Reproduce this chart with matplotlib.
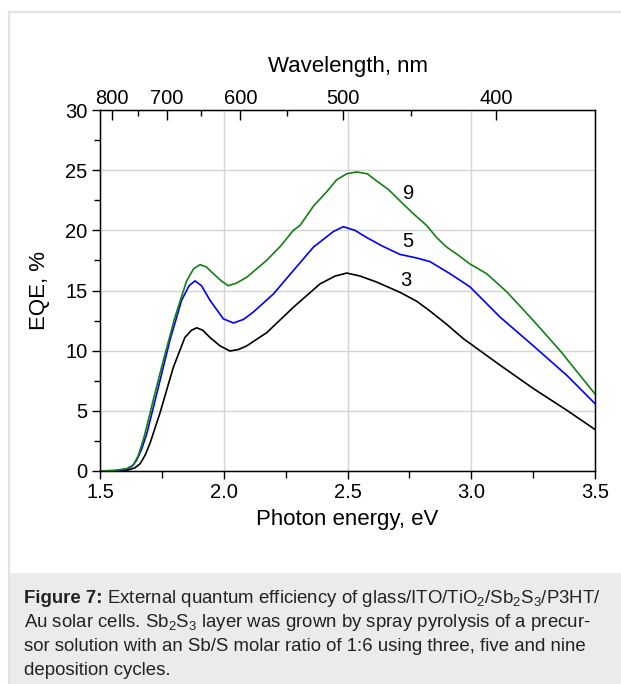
import numpy as np
import matplotlib
matplotlib.use("Agg")
import matplotlib.pyplot as plt
from matplotlib.patches import Rectangle
from matplotlib.lines import Line2D

plt.rcParams["font.family"] = "Liberation Sans"
plt.rcParams["mathtext.fontset"] = "custom"
plt.rcParams["mathtext.rm"] = "Liberation Sans"
plt.rcParams["mathtext.it"] = "Liberation Sans:italic"
plt.rcParams["mathtext.bf"] = "Liberation Sans:bold"

# EQE spectra (photon energy in eV, EQE in %)
e_9 = [1.50, 1.56, 1.608, 1.635, 1.655, 1.675, 1.695, 1.715, 1.756, 1.803, 1.850, 1.878, 1.904, 1.930,
       1.958, 1.990, 2.018, 2.050, 2.093, 2.173, 2.230, 2.281, 2.308, 2.362, 2.420, 2.456, 2.497, 2.537,
       2.580, 2.618, 2.665, 2.712, 2.765, 2.820, 2.860, 2.901, 2.950, 2.995, 3.062, 3.143, 3.251, 3.359, 3.50]
eqe_9 = [0.0, 0.05, 0.2, 0.5, 1.3, 2.6, 4.2, 5.9, 9.2, 12.8, 15.8, 16.8, 17.15, 16.95,
         16.4, 15.8, 15.4, 15.6, 16.1, 17.5, 18.7, 20.0, 20.4, 22.0, 23.3, 24.2, 24.7, 24.85,
         24.7, 24.1, 23.4, 22.45, 21.4, 20.4, 19.4, 18.6, 17.9, 17.2, 16.4, 14.9, 12.5, 10.0, 6.4]

e_5 = [1.50, 1.56, 1.608, 1.630, 1.648, 1.668, 1.689, 1.729, 1.783, 1.830, 1.860, 1.884, 1.910,
       1.944, 1.998, 2.039, 2.080, 2.119, 2.200, 2.281, 2.362, 2.443, 2.483, 2.530, 2.578, 2.640,
       2.712, 2.780, 2.833, 2.914, 2.995, 3.116, 3.251, 3.386, 3.50]
eqe_5 = [0.0, 0.03, 0.15, 0.4, 0.9, 1.8, 3.1, 6.4, 10.9, 14.2, 15.4, 15.8, 15.4,
         14.2, 12.65, 12.3, 12.6, 13.2, 14.7, 16.65, 18.6, 19.9, 20.3, 20.0, 19.4, 18.7,
         18.0, 17.7, 17.4, 16.4, 15.3, 12.8, 10.4, 7.95, 5.6]

e_3 = [1.50, 1.56, 1.608, 1.640, 1.662, 1.682, 1.702, 1.742, 1.796, 1.843, 1.870, 1.891, 1.915,
       1.944, 1.985, 2.025, 2.060, 2.093, 2.174, 2.281, 2.389, 2.450, 2.497, 2.551, 2.618, 2.712,
       2.780, 2.833, 2.900, 2.968, 3.116, 3.251, 3.386, 3.50]
eqe_3 = [0.0, 0.02, 0.05, 0.25, 0.6, 1.3, 2.3, 4.8, 8.6, 11.1, 11.7, 11.9, 11.7,
         11.1, 10.4, 9.97, 10.1, 10.4, 11.5, 13.6, 15.55, 16.2, 16.45, 16.2, 15.7, 14.85,
         14.1, 13.3, 12.2, 11.0, 8.8, 6.85, 5.05, 3.45]

series = [(e_3, eqe_3, "black", "3"), (e_5, eqe_5, "#0000ff", "5"), (e_9, eqe_9, "#138013", "9")]
label_pos = {"3": (2.737, 15.8), "5": (2.745, 19.1), "9": (2.745, 23.1)}

wl_major = [800, 700, 600, 500, 400]
wl_minor = [750, 650, 550, 450]

caption_head = "Figure 7:"
caption = [
    r" External quantum efficiency of glass/ITO/TiO$_2$/Sb$_2$S$_3$/P3HT/",
    r"Au solar cells. Sb$_2$S$_3$ layer was grown by spray pyrolysis of a precur-",
    r"sor solution with an Sb/S molar ratio of 1:6 using three, five and nine",
    r"deposition cycles.",
]

W, H = 621, 684
fig = plt.figure(figsize=(W / 100, H / 100), dpi=100)

# page frame and caption box
fig.patches.append(Rectangle((9 / W, 0), 1 - 9 / W, (H - 573) / H, transform=fig.transFigure,
                             facecolor="#ebebeb", edgecolor="none", zorder=0))
fig.lines.append(Line2D([9 / W, 9 / W], [0, 1 - 12 / H], transform=fig.transFigure, color="#e2e2e2", lw=1.6))
fig.lines.append(Line2D([9 / W, 1], [1 - 12 / H, 1 - 12 / H], transform=fig.transFigure, color="#e2e2e2", lw=1.6))

ax = fig.add_axes([100 / W, 1 - 471 / H, 495 / W, 361 / H])
for e, q, c, lab in series:
    ax.plot(e, q, color=c, lw=1.2, zorder=3)
    ax.text(*label_pos[lab], lab, fontsize=14.5, ha="center", va="center")

ax.set_xlim(1.5, 3.5)
ax.set_ylim(0, 30)
ax.set_xticks([1.5, 2.0, 2.5, 3.0, 3.5])
ax.set_xticks(np.arange(1.5, 3.51, 0.25), minor=True)
ax.set_yticks(range(0, 31, 5))
ax.set_yticks(np.arange(2.5, 30, 5), minor=True)
ax.grid(True, which="major", color="#d4d4d4", lw=1.0, zorder=0)
ax.tick_params(axis="both", which="major", labelsize=14.5, direction="out", length=6, width=1.0, pad=3)
ax.tick_params(axis="both", which="minor", direction="out", length=4, width=1.0)
ax.tick_params(axis="x", which="minor", length=5)
ax.set_xlabel("Photon energy, eV", fontsize=16, labelpad=5)
ax.set_ylabel("EQE, %", fontsize=16, labelpad=11)
for s in ax.spines.values():
    s.set_linewidth(1.0)

ax2 = ax.twiny()
ax2.set_xlim(ax.get_xlim())
ax2.set_xticks([1240 / w for w in wl_major])
ax2.set_xticklabels([str(w) for w in wl_major])
ax2.set_xticks([1240 / w for w in wl_minor], minor=True)
ax2.tick_params(axis="x", which="major", direction="in", length=7, width=1.0, labelsize=14.5, pad=1.5)
ax2.tick_params(axis="x", which="minor", direction="in", length=4, width=1.0)
ax2.set_xlabel("Wavelength, nm", fontsize=16, labelpad=12)

# caption: bold head, then the rest of the first line right after it
cap_fs = 13.4
y0 = 1 - 603 / H
head = fig.text(24 / W, y0, caption_head, fontsize=cap_fs, fontweight="bold",
                ha="left", va="baseline", color="#222222")
renderer = fig.canvas.get_renderer()
hx = head.get_window_extent(renderer).x1 / (W)
for i, line in enumerate(caption):
    x = hx if i == 0 else 24 / W
    fig.text(x, y0 - i * 24 / H, line, fontsize=cap_fs, ha="left", va="baseline", color="#222222")

fig.savefig("out.png", dpi=100)
